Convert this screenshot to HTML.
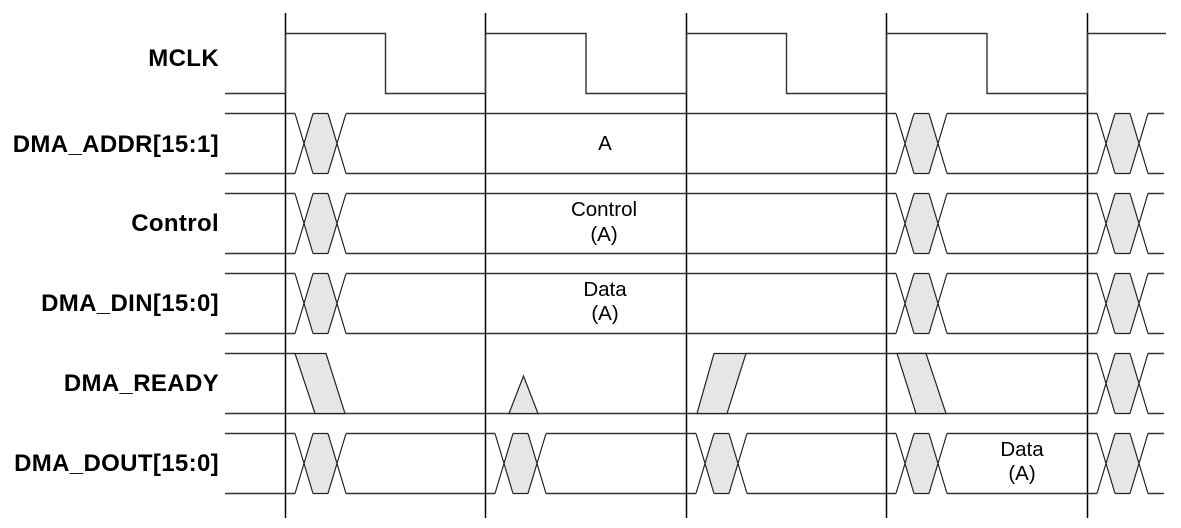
<!DOCTYPE html>
<html><head><meta charset="utf-8"><style>
html,body{margin:0;padding:0;background:#fff;}
svg{display:block;}
.l{font-family:"Liberation Sans",sans-serif;font-weight:bold;font-size:24px;letter-spacing:0.35px;fill:#000;}
.t{font-family:"Liberation Sans",sans-serif;font-size:20.5px;fill:#000;}
</style></head><body>
<svg width="1181" height="528" viewBox="0 0 1181 528" xmlns="http://www.w3.org/2000/svg">
<defs>
<g id="x">
<polygon points="18,0 33,0 42,30 33,60 18,60 9,30" fill="#e6e6e6" stroke="none"/>
<path d="M0,0 L18,60 M0,60 L18,0 M33,0 L51,60 M33,60 L51,0 M18,0 H33 M18,60 H33" stroke="#222" stroke-width="1.2" fill="none"/>
</g>
</defs>
<g stroke="#000" stroke-width="1.5">
<line x1="285.5" y1="13" x2="285.5" y2="518"/>
<line x1="485.5" y1="13" x2="485.5" y2="518"/>
<line x1="686.5" y1="13" x2="686.5" y2="518"/>
<line x1="886.5" y1="13" x2="886.5" y2="518"/>
<line x1="1087.5" y1="13" x2="1087.5" y2="518"/>
</g>
<path d="M225,93.5 H285.5 V33.5 H385.5 V93.5 H485.5 V33.5 H586 V93.5 H686.5 V33.5 H786.5 V93.5 H886.5 V33.5 H987 V93.5 H1087.5 V33.5 H1166" stroke="#333" stroke-width="1.4" fill="none"/>
<g stroke="#333" stroke-width="1.4" fill="none">
<path d="M225,113.5 H295 M346,113.5 H896 M947,113.5 H1097 M1148,113.5 H1164 M225,173.5 H295 M346,173.5 H896 M947,173.5 H1097 M1148,173.5 H1164"/>
<path d="M225,193.5 H295 M346,193.5 H896 M947,193.5 H1097 M1148,193.5 H1164 M225,253.5 H295 M346,253.5 H896 M947,253.5 H1097 M1148,253.5 H1164"/>
<path d="M225,273.5 H295 M346,273.5 H896 M947,273.5 H1097 M1148,273.5 H1164 M225,333.5 H295 M346,333.5 H896 M947,333.5 H1097 M1148,333.5 H1164"/>
<path d="M225,433.5 H295 M346,433.5 H495 M546,433.5 H696 M747,433.5 H896 M947,433.5 H1097 M1148,433.5 H1164 M225,493.5 H295 M346,493.5 H495 M546,493.5 H696 M747,493.5 H896 M947,493.5 H1097 M1148,493.5 H1164"/>
<path d="M225,353.5 H295 M746,353.5 H1097 M1148,353.5 H1164 M225,413.5 H1097 M1148,413.5 H1164"/>
</g>
<g transform="translate(295,113.5)"><use href="#x"/></g>
<g transform="translate(896,113.5)"><use href="#x"/></g>
<g transform="translate(1097,113.5)"><use href="#x"/></g>
<g transform="translate(295,193.5)"><use href="#x"/></g>
<g transform="translate(896,193.5)"><use href="#x"/></g>
<g transform="translate(1097,193.5)"><use href="#x"/></g>
<g transform="translate(295,273.5)"><use href="#x"/></g>
<g transform="translate(896,273.5)"><use href="#x"/></g>
<g transform="translate(1097,273.5)"><use href="#x"/></g>
<g transform="translate(1097,353.5)"><use href="#x"/></g>
<g transform="translate(295,433.5)"><use href="#x"/></g>
<g transform="translate(495,433.5)"><use href="#x"/></g>
<g transform="translate(696,433.5)"><use href="#x"/></g>
<g transform="translate(896,433.5)"><use href="#x"/></g>
<g transform="translate(1097,433.5)"><use href="#x"/></g>
<g fill="#e6e6e6" stroke="#222" stroke-width="1.2">
<polygon points="295,353.5 326,353.5 345,413.5 315,413.5"/>
<polygon points="509,413.5 523.5,376 538,413.5"/>
<polygon points="697,413.5 727,413.5 746,353.5 714,353.5"/>
<polygon points="897,353.5 926,353.5 946,413.5 916,413.5"/>
</g>
<text class="l" x="219" y="66" text-anchor="end">MCLK</text>
<text class="l" x="219" y="152" text-anchor="end">DMA_ADDR[15:1]</text>
<text class="l" x="219" y="231" text-anchor="end">Control</text>
<text class="l" x="219" y="311" text-anchor="end">DMA_DIN[15:0]</text>
<text class="l" x="219" y="391" text-anchor="end">DMA_READY</text>
<text class="l" x="219" y="471" text-anchor="end">DMA_DOUT[15:0]</text>
<text class="t" x="605" y="150" text-anchor="middle">A</text>
<text class="t" x="604" y="216" text-anchor="middle">Control</text>
<text class="t" x="604" y="241" text-anchor="middle">(A)</text>
<text class="t" x="605" y="296" text-anchor="middle">Data</text>
<text class="t" x="605" y="320" text-anchor="middle">(A)</text>
<text class="t" x="1022" y="456" text-anchor="middle">Data</text>
<text class="t" x="1022" y="480" text-anchor="middle">(A)</text>
</svg>
</body></html>
